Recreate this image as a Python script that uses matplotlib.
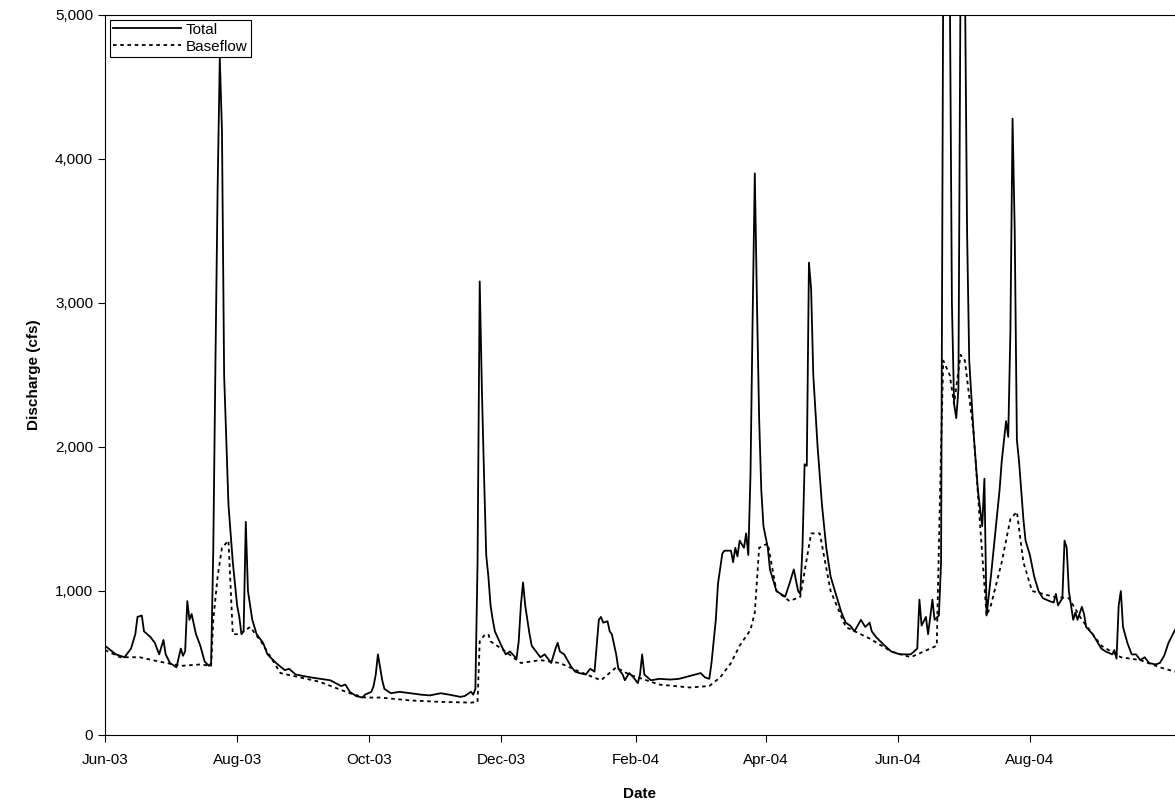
import numpy as np
import pandas as pd
import matplotlib
matplotlib.use('Agg')
import matplotlib.pyplot as plt
import matplotlib.dates as mdates
from matplotlib.ticker import FuncFormatter

plt.rcParams['font.family'] = ['Liberation Sans', 'DejaVu Sans']

start = pd.Timestamp('2003-06-01')
tick_months = ['2003-06-01', '2003-08-01', '2003-10-01', '2003-12-01',
               '2004-02-01', '2004-04-01', '2004-06-01', '2004-08-01']

# days after 2003-06-01 and discharge (cfs)
total_days = [0, 5, 9, 12, 14, 15, 17, 18, 21, 23, 25, 27, 28, 30, 33, 35, 36, 37, 38, 39, 40, 42, 44, 46, 48, 49,
              50, 51, 52, 53, 54, 55, 57, 59, 61, 62, 63, 64, 65, 66, 68, 70, 73, 75, 79, 83, 85, 88, 95, 104, 109,
              111, 113, 116, 119, 120, 123, 124, 125, 126, 128, 129, 132, 136, 141, 146, 150, 155, 159, 164, 166,
              169, 170, 171, 172, 173, 174, 175, 176, 177, 178, 179, 180, 183, 185, 187, 190, 191, 192, 193, 194,
              196, 197, 199, 201, 203, 206, 208, 209, 210, 212, 215, 217, 219, 222, 224, 226, 228, 229, 230, 232,
              233, 234, 236, 237, 239, 240, 242, 244, 246, 247, 248, 249, 252, 256, 261, 265, 270, 275, 277, 279,
              280, 282, 283, 285, 286, 289, 290, 291, 292, 293, 295, 296, 297, 298, 299, 300, 301, 302, 303, 304,
              306, 307, 310, 312, 314, 316, 318, 320, 321, 322, 323, 324, 325, 326, 327, 329, 331, 333, 335, 337,
              340, 342, 344, 346, 349, 351, 353, 354, 356, 358, 360, 363, 367, 372, 375, 376, 377, 379, 380, 382,
              383, 385, 386, 387, 390, 391, 392, 393, 394, 395, 397, 398, 399, 401, 403, 405, 406, 407, 409, 411,
              413, 414, 416, 417, 418, 419, 420, 421, 422, 424, 425, 427, 429, 431, 433, 436, 438, 439, 440, 442,
              443, 444, 445, 447, 448, 449, 451, 452, 453, 456, 458, 460, 462, 465, 466, 467, 468, 469, 470, 472,
              474, 476, 478, 480, 482, 485, 487, 489, 491, 494]
total_vals = [620, 560, 540, 600, 700, 820, 830, 720, 680, 640, 560, 660, 560, 500, 470, 600, 550, 580, 930, 800, 840,
              700, 620, 510, 480, 500, 1300, 2600, 3800, 4700, 4200, 2500, 1600, 1200, 900, 820, 700, 720, 1480, 1000,
              800, 700, 640, 560, 500, 450, 460, 420, 400, 380, 340, 350, 300, 270, 260, 280, 300, 340, 420, 560, 380,
              320, 290, 300, 290, 280, 275, 290, 280, 265, 270, 300, 280, 320, 1200, 3150, 2400, 1800, 1250, 1100, 900,
              800, 720, 620, 560, 580, 530, 650, 900, 1060, 900, 700, 620, 580, 540, 560, 500, 600, 640, 580, 560, 480,
              440, 430, 420, 460, 440, 800, 820, 780, 790, 720, 700, 560, 460, 420, 380, 430, 400, 360, 420, 560, 420,
              380, 390, 385, 390, 410, 430, 400, 390, 500, 800, 1050, 1260, 1280, 1280, 1200, 1300, 1240, 1350, 1300,
              1400, 1250, 1800, 2900, 3900, 3000, 2200, 1700, 1450, 1300, 1150, 1000, 980, 960, 1050, 1150, 1000, 980,
              1300, 1880, 1870, 3280, 3100, 2500, 2000, 1600, 1300, 1100, 1000, 850, 780, 760, 720, 800, 750, 780, 720,
              680, 650, 620, 580, 560, 560, 600, 940, 760, 820, 700, 940, 800, 830, 1200, 5300, 5300, 3000, 2300, 2200,
              2400, 5300, 5300, 3500, 2600, 2100, 1700, 1450, 1780, 830, 1100, 1400, 1700, 1900, 2180, 2070, 2800,
              4280, 3500, 2050, 1900, 1500, 1350, 1250, 1100, 1000, 950, 930, 920, 980, 900, 950, 1350, 1300, 1000,
              800, 850, 800, 890, 840, 750, 700, 650, 600, 580, 560, 590, 530, 900, 1000, 750, 640, 560, 560, 520, 540,
              500, 490, 500, 550, 640, 730]

base_days = [0, 7, 16, 25, 35, 44, 49, 50, 52, 54, 57, 59, 62, 67, 72, 81, 99, 113, 120, 127, 141, 155, 169, 172, 173,
             175, 177, 178, 183, 192, 201, 210, 219, 229, 236, 242, 256, 270, 279, 284, 289, 293, 298, 300, 302, 306,
             310, 316, 321, 326, 330, 335, 342, 353, 363, 372, 381, 384, 386, 387, 390, 392, 395, 397, 401, 407, 409,
             414, 418, 421, 424, 428, 438, 445, 451, 460, 469, 478, 487, 494]
base_vals = [590, 540, 540, 510, 480, 490, 480, 800, 1100, 1300, 1350, 700, 700, 750, 650, 430, 370, 290, 260, 260, 240,
             230, 225, 230, 650, 690, 700, 650, 600, 500, 520, 500, 440, 380, 470, 420, 350, 330, 340, 400, 500, 620,
             730, 850, 1300, 1330, 1000, 930, 960, 1400, 1400, 1000, 750, 670, 580, 540, 600, 620, 2000, 2600, 2500,
             2300, 2640, 2600, 2100, 830, 900, 1200, 1500, 1550, 1200, 1000, 960, 950, 800, 620, 540, 520, 470, 440]

total_dates = start + pd.to_timedelta(total_days, unit='D')
base_dates = start + pd.to_timedelta(base_days, unit='D')

fig = plt.figure(figsize=(11.75, 8.09), dpi=100)
ax = fig.add_axes([105 / 1175, 74 / 809, 1070 / 1175, 720 / 809])

ax.plot(total_dates, total_vals, color='black', lw=1.3, label='Total')
ax.plot(base_dates, base_vals, color='black', lw=1.3, ls=(0, (2, 2)), label='Baseflow')

ax.set_xlim(start, start + pd.Timedelta(days=494))
ax.set_ylim(0, 5000)
ax.set_yticks(range(0, 5001, 1000))
ax.yaxis.set_major_formatter(FuncFormatter(lambda v, p: f'{int(v):,}'))
ax.set_xticks(pd.to_datetime(tick_months))
ax.xaxis.set_major_formatter(mdates.DateFormatter('%b-%y'))
ax.tick_params(direction='out', labelsize=11, length=5)
ax.tick_params(axis='x', pad=8)
ax.spines['right'].set_visible(False)

ax.set_xlabel('Date', fontsize=11, fontweight='bold', labelpad=14)
ax.set_ylabel('Discharge (cfs)', fontsize=11, fontweight='bold', labelpad=10)

leg = ax.legend(loc='upper left', fontsize=11, fancybox=False, framealpha=1,
                edgecolor='black', borderaxespad=0.3, handlelength=4.5,
                handletextpad=0.3, borderpad=0.2, labelspacing=0.2)
leg.get_frame().set_linewidth(0.8)

fig.savefig('out.png', dpi=100)
